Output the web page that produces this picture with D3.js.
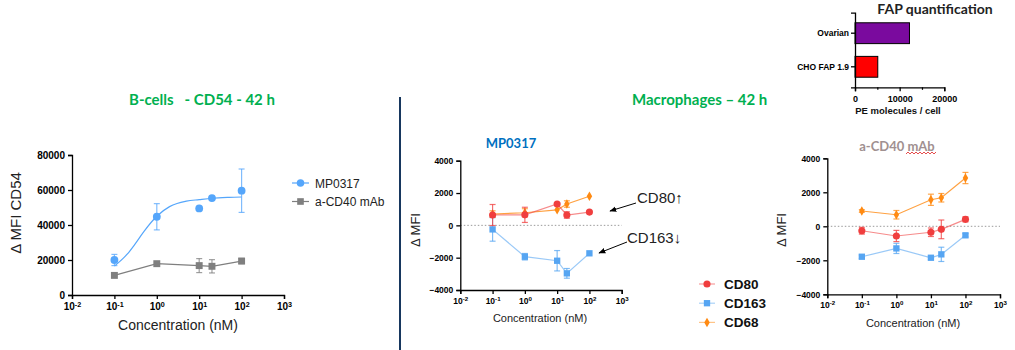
<!DOCTYPE html>
<html>
<head>
<meta charset="utf-8">
<script src="https://cdn.jsdelivr.net/npm/d3@7"></script>
<style>
  body { margin: 0; background: #fff; }
  svg text { font-family: "Liberation Sans", Arial, sans-serif; }
  .title { font-family: Lato, "Open Sans", sans-serif !important; font-weight: bold; white-space: pre; }
</style>
</head>
<body>
<div id="graph"></div>
<script>
// ---- data ----
var CONC = [0.1, 1, 10, 20, 100];
var LOG_TICKS = [0.01, 0.1, 1, 10, 100, 1000];

// B-cells, CD54
var bcell_mp0317 = [20000, 44700, 49500, 55400, 59600];
var bcell_mp0317_err = [3200, 7500, 0, 0, 12400];
var bcell_fit_conc = [0.1, 0.2, 0.3, 0.5, 1, 2, 3, 5, 10, 20, 50, 100];
var bcell_fit_vals = [16500, 23300, 28800, 36400, 45000, 50500, 52300, 53600, 54500, 55300, 55800, 56000];
var bcell_acd40 = [11200, 17900, 16800, 16400, 19400];
var bcell_acd40_err = [0, 0, 4000, 3800, 1500];
var bcell_yticks = [0, 20000, 40000, 60000, 80000];

// Macrophages, MP0317
var mp_cd80 = [640, 650, 1320, 640, 820];
var mp_cd80_err = [650, 470, 0, 200, 0];
var mp_cd163 = [-250, -1940, -2190, -2970, -1730];
var mp_cd163_err = [730, 200, 630, 300, 0];
var mp_cd68 = [700, 780, 960, 1320, 1800];
var mp_cd68_err = [200, 250, 0, 200, 0];

// Macrophages, a-CD40 mAb
var ab_cd80 = [-260, -570, -350, -180, 410];
var ab_cd80_err = [200, 330, 250, 550, 150];
var ab_cd163 = [-1790, -1300, -1850, -1650, -530];
var ab_cd163_err = [100, 300, 100, 420, 100];
var ab_cd68 = [900, 680, 1560, 1680, 2840];
var ab_cd68_err = [80, 250, 330, 250, 330];
var mac_yticks = [-4000, -2000, 0, 2000, 4000];

// FAP quantification
var fap_cells = ["Ovarian", "CHO FAP 1.9"];
var fap_values = [12200, 5100];
var fap_ticks = [0, 10000, 20000];

var COLORS = {
  mp0317: "#55a6fb", acd40: "#7f7f7f",
  cd80: "#f03e3e", cd163: "#56a5f2", cd68: "#ff8a12",
  ovarian: "#7a0a9e", cho: "#ff0000"
};

var svg = d3.select("#graph").append("svg")
  .attr("width", 1015).attr("height", 350);

function styleAxis(ax, fontSize) {
  ax.select(".domain").attr("stroke", "#000").attr("stroke-width", 1.3);
  ax.selectAll(".tick line").attr("stroke", "#000").attr("stroke-width", 1.3);
  ax.selectAll("text").attr("font-weight", "bold").attr("font-size", fontSize)
    .attr("font-family", "'Liberation Sans', Arial, sans-serif").attr("fill", "#000");
}

// log x axis with 10^n labels
function logXAxis(xscale, ypos, fontSize) {
  let ax = svg.append("g")
    .attr("transform", "translate(0," + ypos + ")")
    .call(d3.axisBottom(xscale).tickValues(LOG_TICKS).tickSize(4).tickPadding(4).tickFormat(""));
  styleAxis(ax, fontSize);
  ax.selectAll(".tick text").each(function(d) {
    let t = d3.select(this);
    t.append("tspan").text("10");
    t.append("tspan").attr("dy", -fontSize * 0.35).attr("font-size", fontSize * 0.72)
      .text(Math.round(Math.log10(d)));
  });
  return ax;
}

function yAxis(yscale, xpos, ticks, fontSize) {
  let ax = svg.append("g")
    .attr("transform", "translate(" + xpos + ",0)")
    .call(d3.axisLeft(yscale).tickValues(ticks).tickSize(4).tickPadding(3).tickFormat(d3.format("d")));
  styleAxis(ax, fontSize);
  return ax;
}

function symbolPath(shape, size) {
  let type = shape === "square" ? d3.symbolSquare : (shape === "diamond" ? d3.symbolDiamond : d3.symbolCircle);
  return d3.symbol().type(type).size(size)();
}

// error bars + line + markers
function drawSeries(xscale, yscale, values, errs, color, shape, size, lineOpacity, noLine) {
  let g = svg.append("g");
  let data = CONC.map((c, i) => ({c: c, v: values[i], e: errs ? errs[i] : 0}));

  if (!noLine) {
    g.append("path").datum(data)
      .attr("fill", "none").attr("stroke", color).attr("stroke-opacity", lineOpacity)
      .attr("stroke-width", 1.2)
      .attr("d", d3.line().x(d => xscale(d.c)).y(d => yscale(d.v)));
  }

  let eb = g.selectAll(".err").data(data.filter(d => d.e > 0)).enter().append("g")
    .attr("stroke", color).attr("stroke-opacity", 0.75).attr("stroke-width", 1.2);
  eb.append("line")
    .attr("x1", d => xscale(d.c)).attr("x2", d => xscale(d.c))
    .attr("y1", d => yscale(d.v + d.e)).attr("y2", d => yscale(d.v - d.e));
  [1, -1].forEach(s => {
    eb.append("line")
      .attr("x1", d => xscale(d.c) - 3).attr("x2", d => xscale(d.c) + 3)
      .attr("y1", d => yscale(d.v + s * d.e)).attr("y2", d => yscale(d.v + s * d.e));
  });

  g.selectAll(".pt").data(data).enter().append("path")
    .attr("d", symbolPath(shape, size))
    .attr("transform", d => "translate(" + xscale(d.c) + "," + yscale(d.v) + ")")
    .attr("fill", color);
}

function zeroLine(xscale, yscale) {
  svg.append("line")
    .attr("x1", xscale(0.01)).attr("x2", xscale(1000))
    .attr("y1", yscale(0)).attr("y2", yscale(0))
    .attr("stroke", "#9a9a9a").attr("stroke-width", 1).attr("stroke-dasharray", "1.5,2");
}

function axisTitle(x, y, text, size, rotate) {
  let t = svg.append("text").attr("text-anchor", "middle").attr("font-size", size).attr("fill", "#222")
    .text(text);
  if (rotate) t.attr("transform", "translate(" + x + "," + y + ") rotate(-90)");
  else t.attr("x", x).attr("y", y);
  return t;
}

// ---------- section titles + divider ----------
svg.append("text").attr("class", "title").attr("x", 129).attr("y", 105)
  .attr("font-size", 15).attr("fill", "#00b050").text("B-cells   - CD54 - 42 h");
svg.append("text").attr("class", "title").attr("x", 632).attr("y", 105)
  .attr("font-size", 15).attr("fill", "#00b050").text("Macrophages \u2013 42 h");
svg.append("line").attr("x1", 400).attr("x2", 400).attr("y1", 97).attr("y2", 350)
  .attr("stroke", "#17375e").attr("stroke-width", 2);

// ---------- B-cells CD54 ----------
var bx = d3.scaleLog().domain([0.01, 1000]).range([72, 284]);
var by = d3.scaleLinear().domain([0, 80000]).range([295, 155]);

yAxis(by, 72, bcell_yticks, 10);
logXAxis(bx, 295, 10);

svg.append("path").datum(bcell_fit_conc.map((c, i) => [c, bcell_fit_vals[i]]))
  .attr("fill", "none").attr("stroke", COLORS.mp0317).attr("stroke-width", 1.2)
  .attr("d", d3.line().x(d => bx(d[0])).y(d => by(d[1])).curve(d3.curveMonotoneX));
drawSeries(bx, by, bcell_acd40, bcell_acd40_err, COLORS.acd40, "square", 48, 1, false);
drawSeries(bx, by, bcell_mp0317, bcell_mp0317_err, COLORS.mp0317, "circle", 48, 1, true);

axisTitle(21, 213, "\u0394 MFI CD54", 15, true);
axisTitle(178, 330, "Concentration (nM)", 14, false);

// legend
var bLegend = [["MP0317", COLORS.mp0317, "circle"], ["a-CD40 mAb", COLORS.acd40, "square"]];
bLegend.forEach((d, i) => {
  let y = 183 + i * 18.5;
  svg.append("line").attr("x1", 292).attr("x2", 309).attr("y1", y).attr("y2", y)
    .attr("stroke", d[1]).attr("stroke-width", 1.2);
  svg.append("path").attr("d", symbolPath(d[2], 44)).attr("transform", "translate(300.5," + y + ")")
    .attr("fill", d[1]);
  svg.append("text").attr("x", 315).attr("y", y + 4.5).attr("font-size", 12).attr("fill", "#222").text(d[0]);
});

// ---------- Macrophages: MP0317 ----------
var mx = d3.scaleLog().domain([0.01, 1000]).range([460.3, 621.7]);
var my = d3.scaleLinear().domain([-4000, 4000]).range([290, 160.7]);

zeroLine(mx, my);
yAxis(my, 460.3, mac_yticks, 8.5);
logXAxis(mx, 290, 8.5);
drawSeries(mx, my, mp_cd163, mp_cd163_err, COLORS.cd163, "square", 40, 0.6);
drawSeries(mx, my, mp_cd68, mp_cd68_err, COLORS.cd68, "diamond", 26, 0.8);
drawSeries(mx, my, mp_cd80, mp_cd80_err, COLORS.cd80, "circle", 40, 0.6);

svg.append("text").attr("class", "title").attr("x", 511).attr("y", 148).attr("text-anchor", "middle")
  .attr("font-size", 13).attr("fill", "#0070c0").text("MP0317");
axisTitle(420, 230, "\u0394 MFI", 13, true);
axisTitle(540, 322, "Concentration (nM)", 11, false);

// annotations
svg.append("defs").append("marker").attr("id", "arr")
  .attr("viewBox", "0 0 10 10").attr("refX", 9).attr("refY", 5)
  .attr("markerWidth", 7).attr("markerHeight", 7).attr("orient", "auto")
  .append("path").attr("d", "M0,1 L10,5 L0,9 z").attr("fill", "#000");
[[636, 203, 610, 211], [627, 242, 599, 253]].forEach(a => {
  svg.append("line").attr("x1", a[0]).attr("y1", a[1]).attr("x2", a[2]).attr("y2", a[3])
    .attr("stroke", "#000").attr("stroke-width", 1).attr("marker-end", "url(#arr)");
});
svg.append("text").attr("x", 637).attr("y", 203).attr("font-size", 15).attr("fill", "#222").text("CD80\u2191");
svg.append("text").attr("x", 627).attr("y", 243).attr("font-size", 15).attr("fill", "#222").text("CD163\u2193");

// legend
var mLegend = [["CD80", COLORS.cd80, "circle", 40], ["CD163", COLORS.cd163, "square", 40], ["CD68", COLORS.cd68, "diamond", 26]];
mLegend.forEach((d, i) => {
  let y = 284 + i * 19.2;
  svg.append("line").attr("x1", 699).attr("x2", 715).attr("y1", y).attr("y2", y)
    .attr("stroke", d[1]).attr("stroke-opacity", 0.5).attr("stroke-width", 1.2);
  svg.append("path").attr("d", symbolPath(d[2], d[3])).attr("transform", "translate(707," + y + ")")
    .attr("fill", d[1]);
  svg.append("text").attr("x", 724).attr("y", y + 5).attr("font-size", 13.5).attr("font-weight", "bold")
    .attr("fill", "#111").text(d[0]);
});

// ---------- Macrophages: a-CD40 mAb ----------
var ax2 = d3.scaleLog().domain([0.01, 1000]).range([827.3, 1000]);
var ay2 = d3.scaleLinear().domain([-4000, 4000]).range([294.3, 158.3]);

zeroLine(ax2, ay2);
yAxis(ay2, 827.3, mac_yticks, 8.5);
logXAxis(ax2, 294.3, 8.5);
drawSeries(ax2, ay2, ab_cd163, ab_cd163_err, COLORS.cd163, "square", 40, 0.6);
drawSeries(ax2, ay2, ab_cd80, ab_cd80_err, COLORS.cd80, "circle", 40, 0.6);
drawSeries(ax2, ay2, ab_cd68, ab_cd68_err, COLORS.cd68, "diamond", 26, 0.8);

var abTitle = svg.append("text").attr("class", "title").attr("x", 897).attr("y", 151).attr("text-anchor", "middle")
  .attr("font-size", 13).attr("fill", "#a09090").text("a-CD40 mAb");
// spell-check squiggle under "mAb"
var sq = d3.range(0, 16).map(i => [906 + i * 2, i % 2 ? 152 : 154]);
svg.append("path").attr("d", d3.line()(sq)).attr("fill", "none").attr("stroke", "#e02020").attr("stroke-width", 0.8);

axisTitle(786, 230, "\u0394 MFI", 13, true);
axisTitle(913, 327, "Concentration (nM)", 11, false);

// ---------- FAP quantification ----------
var fx = d3.scaleLinear().domain([0, 20000]).range([855, 944.3]);
var fy = d3.scaleBand().domain(fap_cells).range([12.7, 87.3]).paddingInner(0.38).paddingOuter(0.3);

svg.selectAll(".fapbar").data(fap_cells).enter().append("rect")
  .attr("x", fx(0)).attr("y", d => fy(d))
  .attr("width", (d, i) => fx(fap_values[i]) - fx(0)).attr("height", fy.bandwidth())
  .attr("fill", (d, i) => i === 0 ? COLORS.ovarian : COLORS.cho)
  .attr("stroke", "#000").attr("stroke-width", 1);

var fxa = svg.append("g").attr("transform", "translate(0,87.3)")
  .call(d3.axisBottom(fx).tickValues(fap_ticks).tickSize(4).tickPadding(4).tickFormat(d3.format("d")));
styleAxis(fxa, 9);
svg.append("g").attr("transform", "translate(0,87.3)")
  .call(d3.axisBottom(fx).tickValues([5000, 15000]).tickSize(2.5).tickFormat(""))
  .call(g => g.select(".domain").remove())
  .selectAll("line").attr("stroke", "#000").attr("stroke-width", 1.2);
var fya = svg.append("g").attr("transform", "translate(855,0)")
  .call(d3.axisLeft(fy).tickSize(4).tickPadding(2));
styleAxis(fya, 8.5);

svg.append("text").attr("class", "title").attr("x", 935).attr("y", 14).attr("text-anchor", "middle")
  .attr("font-size", 14).attr("fill", "#222").text("FAP quantification");
svg.append("text").attr("x", 898).attr("y", 114).attr("text-anchor", "middle")
  .attr("font-size", 9.5).attr("font-weight", "bold").attr("fill", "#111").text("PE molecules / cell");
</script>
</body>
</html>
